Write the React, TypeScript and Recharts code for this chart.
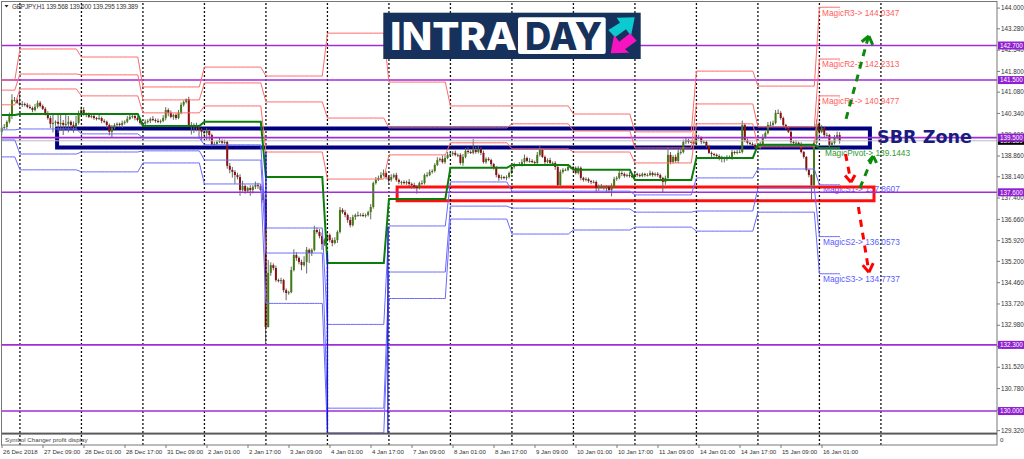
import React from 'react'
import { ComposedChart, Bar, Line, XAxis, YAxis, ReferenceLine, ReferenceArea } from 'recharts'

const dateLabels = [
  '26 Dec 2018', '27 Dec 09:00', '28 Dec 01:00', '28 Dec 17:00', '31 Dec 09:00', '2 Jan 01:00', '2 Jan 17:00',
  '3 Jan 09:00', '4 Jan 01:00', '4 Jan 17:00', '7 Jan 09:00', '8 Jan 01:00', '8 Jan 17:00', '9 Jan 09:00',
  '10 Jan 01:00', '10 Jan 17:00', '11 Jan 09:00', '14 Jan 01:00', '14 Jan 17:00', '15 Jan 09:00', '16 Jan 01:00',
]
const priceTicks = [
  129.32, 130.04, 130.78, 131.52, 132.24, 132.98, 133.72, 134.46, 135.2, 135.92, 136.66,
  137.4, 138.14, 138.86, 139.6, 140.34, 141.08, 141.8, 142.54, 143.28, 144,
]
const srLevels = [142.7, 141.5, 139.5, 137.6, 132.3, 130]
const lastPrice = 139.389

// bar index of each daily separator
const dayBars = [7, 31, 55, 79, 103, 127, 151, 175, 199, 223, 247, 271, 295, 319, 343]

// daily pivot levels, one value per day block
const magicR3 = [141.5, 142.58, 142.3, 141.26, 141.95, 141.64, 143.13, 141.43, 140.6, 140.6, 140.32, 139.7, 141.81, 141.29, 144.03]
const magicR2 = [141.15, 141.71, 141.68, 140.81, 141.4, 140.74, 140.18, 139.84, 139.84, 139.98, 139.73, 139.14, 140.67, 139.87, 142.23]
const magicR1 = [140.64, 141.19, 140.95, 140.36, 140.6, 139.0, 138.06, 138.9, 139.32, 139.11, 139.0, 138.62, 139.98, 139.18, 140.95]
const magicPivot = [140.29, 140.32, 140.32, 139.9, 140.05, 138.13, 135.14, 137.37, 138.45, 138.55, 138.38, 138.03, 138.79, 139.25, 139.14]
const magicS1 = [139.77, 139.8, 139.63, 139.49, 139.25, 136.36, 133.01, 136.43, 137.96, 137.64, 137.64, 137.51, 138.1, 138.41, 137.86]
const magicS2 = [139.42, 138.93, 139.0, 139.04, 138.72, 135.49, 130.1, 134.83, 137.12, 137.05, 137.02, 136.91, 136.95, 137.75, 136.06]
const magicS3 = [138.83, 138.38, 138.31, 138.62, 137.89, 133.74, 129.24, 133.91, 136.67, 136.15, 136.29, 136.39, 136.25, 136.91, 134.77]

const closes = [
  139.84, 139.87, 140.05, 140.25, 140.81, 140.81, 140.71, 140.64, 140.67, 140.64, 140.57, 140.53, 140.46, 140.57, 140.71, 140.6,
  140.5, 140.32, 140.18, 139.98, 140.01, 140.05, 139.98, 140.01, 139.94, 139.98, 140.05, 139.94, 139.87, 140.01, 140.29, 140.46,
  140.32, 140.29, 140.22, 140.25, 140.18, 140.15, 140.18, 140.08, 140.05, 139.94, 139.7, 139.84, 139.94, 139.98, 139.94, 140.01,
  140.05, 140.15, 140.22, 140.25, 140.18, 140.11, 140.01, 139.98, 140.05, 140.08, 140.15, 140.11, 140.08, 140.05, 140.08, 140.18,
  140.46, 140.36, 140.22, 140.29, 140.18, 140.36, 140.64, 140.74, 140.84, 139.94, 139.91, 139.94, 139.84, 139.77, 139.7, 139.66,
  139.73, 139.59, 139.25, 139.28, 139.35, 139.39, 139.32, 139.35, 138.52, 138.38, 138.31, 138.2, 138.13, 137.68, 137.82, 137.65,
  137.75, 137.68, 137.79, 137.85, 137.82, 137.68, 137.33, 132.92,
  134.8, 135.07, 134.97, 134.55, 134.52, 134.55, 134.2, 134.1, 134.13, 134.9, 135.42, 135.32, 135.18, 135.07, 135.18, 135.6,
  135.49, 135.6, 136.29, 136.22, 136.08, 135.8, 135.94, 136.12, 135.94, 135.84, 135.94, 136.22, 136.99,
  136.91, 136.81, 136.64, 136.46, 136.74, 136.81, 136.81, 136.81, 136.78, 136.81, 136.91, 137.09,
  137.92, 138.03, 138.1, 138.2, 138.27, 138.13, 138.03, 138.13, 138.2, 138.03, 137.96, 137.96, 137.92, 137.96, 137.89, 137.85,
  137.79, 137.75, 137.92, 137.92, 138.2, 138.2, 138.31, 138.34, 138.55, 138.72, 138.76, 138.65, 138.79, 138.9, 138.93, 138.97,
  138.9, 138.9, 138.62, 138.83, 139.04, 139.0, 138.97, 139.07, 139.0, 139.11, 138.97, 138.65, 138.76, 138.72, 138.58, 138.45,
  138.2, 138.1, 138.13, 138.1, 138.13, 138.27, 138.48, 138.55, 138.55, 138.55, 138.65, 138.79, 138.69, 138.69, 138.65, 138.62,
  138.9, 139.07, 138.83, 138.65, 138.72, 138.62, 138.62, 138.48, 137.85, 138.31, 138.38, 138.38, 138.48, 138.48, 138.45, 138.27,
  138.45, 138.1, 138.03, 138.06, 137.99, 137.96, 137.96, 137.75, 137.79, 137.79, 137.79, 137.79, 137.68, 137.79, 138.06, 138.1,
  138.27, 138.24, 138.17, 138.2, 138.17, 138.13, 138.24, 138.2, 138.17, 138.24, 138.2, 138.2, 138.27, 138.2, 138.24, 138.2,
  138.1, 137.96, 138.1, 138.9, 138.65, 138.83, 138.69, 138.97,
  139.0, 139.35, 139.42, 139.35, 139.35, 139.28, 139.52, 139.49, 139.35, 139.35, 139.21, 138.97, 138.93, 138.9, 138.86, 138.83,
  138.79, 138.76, 138.83, 138.83, 139.0, 138.97, 139.0, 139.0, 139.94, 139.42, 139.32, 139.28, 139.25, 139.18, 139.14, 139.28,
  139.52, 139.66, 139.94, 139.94, 140.01, 140.36, 140.36, 140.18, 139.94, 139.84, 139.7, 139.35, 139.32, 139.32, 139.28, 139.0,
  138.83, 138.38, 138.2, 137.85, 139.32, 139.98, 139.7, 139.84, 139.59, 139.59, 139.25, 139.32, 139.49, 139.59, 139.39,
]

// wick lengths above and below each candle body
const upperWicks = [
  .08, .1, .05, .12, .2, .1, .05, .35, .1, .05, .06, .08, .05, .1, .08, .06,
  .05, .06, .1, .08, .3, .05, .28, .32, .1, .3, .2, .05, .12, .25, .15, .12,
  .1, .05, .08, .1, .05, .04, .12, .05, .06, .04, .05, .1, .06, .05, .04, .08,
  .05, .1, .12, .08, .05, .06, .08, .05, .08, .06, .05, .1, .06, .08, .05, .1,
  .1, .06, .08, .04, .05, .1, .08, .05, .02, .08, .1, .06, .08, .05, .05, .08,
  .1, .06, .05, .08, .06, .1, .05, .08, .04, .1, .1, .06, .08, .1, .18, .05,
  .05, .1, .06, .12, .08, .06, .04, .02,
  .45, .1, .06, .08, .05, .08, .04, .06, .05, .12, .2, .1, .05, .08, .2, .1,
  .05, .05, .15, .08, .1, .12, .06, .1, .05, .08, .1, .06, .1,
  .06, .08, .05, .1, .08, .05, .12, .06, .08, .05, .05, .1,
  .05, .1, .08, .1, .12, .06, .05, .1, .06, .08, .05, .04, .06, .05, .1, .05,
  .08, .06, .05, .1, .05, .1, .08, .06, .06, .1, .05, .12, .1, .1, .08, .06,
  .08, .05, .06, .1, .1, .12, .06, .38, .12, .1, .05, .08, .05, .06, .05, .04,
  .06, .05, .08, .04, .06, .05, .06, .08, .04, .1, .1, .12, .05, .1, .06, .05,
  .1, .15, .06, .05, .06, .08, .05, .06, .04, .08, .06, .05, .06, .05, .04, .05,
  .06, .05, .04, .06, .05, .04, .06, .05, .08, .1, .04, .06, .05, .12, .08, .06,
  .1, .06, .05, .05, .1, .05, .08, .04, .06, .05, .04, .06, .08, .05, .05, .06,
  .05, .04, .08, .25, .1, .06, .08, .12,
  .12, .08, .06, .04, .06, .05, .15, .08, .05, .06, .05, .04, .05, .04, .05, .06,
  .04, .05, .06, .05, .08, .05, .08, .1, .15, .06, .05, .04, .06, .05, .04, .08,
  .1, .06, .1, .12, .08, .1, .12, .06, .05, .04, .05, .06, .05, .08, .04, .06,
  .04, .03, .02, .03, .1, .15, .08, .1, .05, .08, .04, .06, .1, .12, .1,
]
const lowerWicks = [
  .1, .05, .08, .06, .1, .06, .04, .05, .08, .06, .05, .04, .08, .05, .06, .05,
  .04, .05, .06, .15, .3, .1, .32, .25, .35, .12, .3, .1, .2, .1, .06, .05,
  .06, .08, .04, .05, .06, .05, .04, .08, .05, .1, .12, .2, .05, .06, .08, .1,
  .06, .05, .04, .06, .08, .05, .06, .1, .05, .06, .08, .04, .06, .05, .06, .05,
  .08, .12, .05, .1, .06, .04, .05, .06, .05, .04, .3, .25, .12, .3, .28, .1,
  .25, .2, .06, .05, .08, .04, .06, .05, .1, .12, .2, .3, .08, .2, .05, .1,
  .06, .2, .12, .08, .1, .05, .1, .56,
  .02, .1, .08, .06, .05, .1, .08, .25, .06, .04, .05, .1, .08, .18, .05, .4,
  .35, .1, .05, .06, .08, .2, .06, .05, .08, .12, .05, .1, .05,
  .06, .08, .1, .08, .05, .1, .06, .05, .04, .06, .05, .25,
  .06, .05, .04, .06, .05, .08, .1, .06, .05, .06, .08, .1, .05, .06, .08, .12,
  .06, .2, .05, .06, .05, .08, .04, .06, .05, .04, .06, .05, .06, .04, .05, .06,
  .05, .08, .06, .1, .05, .06, .04, .05, .06, .05, .08, .05, .06, .04, .08, .06,
  .08, .1, .06, .05, .08, .05, .04, .06, .05, .04, .05, .06, .05, .06, .04, .05,
  .05, .06, .04, .08, .05, .06, .04, .1, .06, .05, .06, .04, .05, .06, .08, .05,
  .05, .08, .06, .05, .06, .08, .05, .15, .1, .06, .1, .2, .08, .22, .05, .06,
  .05, .08, .06, .05, .06, .04, .05, .06, .05, .04, .06, .05, .04, .06, .05, .06,
  .05, .35, .1, .06, .08, .05, .06, .08,
  .06, .05, .08, .06, .04, .05, .06, .05, .08, .06, .05, .04, .1, .06, .08, .12,
  .15, .12, .06, .05, .1, .06, .05, .04, .05, .08, .06, .05, .04, .05, .06, .05,
  .04, .06, .05, .04, .06, .05, .04, .06, .08, .05, .04, .06, .05, .08, .06, .05,
  .06, .05, .08, .52, .05, .06, .1, .05, .08, .06, .1, .05, .06, .05, .1,
]

const chartRows = closes.map((close, i) => {
  const open = i === 0 ? 139.7 : closes[i - 1]
  const high = Math.max(open, close) + upperWicks[i]
  const low = Math.min(open, close) - lowerWicks[i]
  const row: any = { bar: i, open, close, high, low, range: [low, high] }
  // the level stays flat inside a day and slants over the last bar before the separator
  const nextDay = dayBars.findIndex((d) => d > i)
  const isSlant = dayBars[nextDay] === i + 1
  row.r3 = isSlant ? null : magicR3[nextDay]
  row.r2 = isSlant ? null : magicR2[nextDay]
  row.r1 = isSlant ? null : magicR1[nextDay]
  row.pivot = isSlant ? null : magicPivot[nextDay]
  row.s1 = isSlant ? null : magicS1[nextDay]
  row.s2 = isSlant ? null : magicS2[nextDay]
  row.s3 = isSlant ? null : magicS3[nextDay]
  return row
})

const labelFont = '"Liberation Sans", Arial, sans-serif'

function Candle(props: any) {
  const { x, y, width, height, payload } = props
  const cx = x + width / 2
  const perPrice = height / (payload.high - payload.low)
  const top = y + (payload.high - Math.max(payload.open, payload.close)) * perPrice
  const bodyHeight = Math.max(Math.abs(payload.close - payload.open) * perPrice, 1)
  const up = payload.close >= payload.open
  return (
    <g>
      <line x1={cx} x2={cx} y1={y} y2={y + height} stroke="#666" strokeWidth={1} />
      <rect x={cx - 1} y={top} width={2} height={bodyHeight} fill={up ? '#447a12' : '#8a1010'} />
    </g>
  )
}

function PriceTick({ x, y, payload }: any) {
  const v = payload.value
  const isLevel = srLevels.includes(v)
  const isLast = v === lastPrice
  if (isLevel || isLast) {
    return (
      <g>
        <rect x={x + 1} y={y - 4} width={27} height={8} fill={isLast ? '#000' : '#8f1fd0'} />
        <text x={x + 3} y={y + 2.2} fontSize={6.3} fontFamily={labelFont} fill="#fff">{v.toFixed(3)}</text>
      </g>
    )
  }
  return (
    <g>
      <line x1={x} x2={x + 3} y1={y} y2={y} stroke="#444" strokeWidth={0.7} />
      <text x={x + 4} y={y + 2.2} fontSize={6.3} fontFamily={labelFont} fill="#333">{v.toFixed(3)}</text>
    </g>
  )
}

function DateTick({ x, y, index }: any) {
  return (
    <g>
      <line x1={x} x2={x} y1={y} y2={y + 3} stroke="#444" strokeWidth={0.7} />
      <text x={x + 1} y={y + 9} fontSize={6.1} fontFamily={labelFont} fill="#333">{dateLabels[index]}</text>
    </g>
  )
}

function Segment({ a, b, color, dash, width = 3 }: any) {
  return (
    <ReferenceLine
      key={`${a[0]}-${a[1]}`}
      segment={[{ x: a[0], y: a[1] }, { x: b[0], y: b[1] }]}
      stroke={color}
      strokeWidth={width}
      strokeDasharray={dash}
      ifOverflow="visible"
    />
  )
}

// the MT4 chart objects sit under the drawn arrows
function TextLayer() {
  const magic = { fontFamily: labelFont, fontSize: 8.3, dominantBaseline: 'central' as const }
  return (
    <svg width={1024} height={459} style={{ position: 'absolute', left: 0, top: 0 }}>
      <text x={822} y={12.5} fill="#ff6060" {...magic}>MagicR3-&gt; 144.0347</text>
      <text x={822} y={64} fill="#ff6060" {...magic}>MagicR2-&gt; 142.2313</text>
      <text x={822} y={101} fill="#ff6060" {...magic}>MagicR1-&gt; 140.9477</text>
      <text x={825} y={153} fill="#2f9a2f" {...magic}>MagicPivot-&gt; 139.1443</text>
      <text x={823} y={189} fill="#5c5cff" {...magic}>MagicS1-&gt; 137.8607</text>
      <text x={823} y={241.7} fill="#5c5cff" {...magic}>MagicS2-&gt; 136.0573</text>
      <text x={823} y={279} fill="#5c5cff" {...magic}>MagicS3-&gt; 134.7737</text>
    </svg>
  )
}

function Overlay() {
  return (
    <svg width={1024} height={459} style={{ position: 'absolute', left: 0, top: 0, pointerEvents: 'none' }}>
      <rect x={1.5} y={1.5} width={995.5} height={443.5} fill="none" stroke="#777" />
      <rect x={2} y={432.6} width={995} height={2} fill="#5a5a5a" />
      <text x={5} y={442} fontSize={6.2} fontFamily={labelFont} fill="#444">Symbol Changer profit display</text>
      <text x={1000} y={442} fontSize={6.2} fontFamily={labelFont} fill="#333">0</text>
      <polygon points="4.5,5 8.5,5 6.5,7.5" fill="#222" />
      <text x={12} y={9} fontSize={6.4} fontFamily={labelFont} fill="#333" textLength={126}>GBPJPY,H1  139.568 139.600 139.295 139.389</text>
      <text x={877} y={137} fontFamily='"DejaVu Sans", sans-serif' fontWeight={700} fontSize={17.6} fill="#1b1b80" dominantBaseline="central">SBR Zone</text>

      <rect x={383.3} y={12.7} width={257.4} height={46.3} fill="#16325c" />
      <text x={390} y={50} fontFamily='Inter, sans-serif' fontWeight={800} fontSize={38.5} fill="#fff" textLength={127} lengthAdjust="spacingAndGlyphs">INTRA</text>
      <rect x={518} y={17.3} width={87.7} height={36.7} rx={2} fill="#fff" />
      <text x={525} y={50} fontFamily='Inter, sans-serif' fontWeight={800} fontSize={38.5} fill="#16325c" textLength={77} lengthAdjust="spacingAndGlyphs">DAY</text>
      <polygon points="616.7,17.7 634.7,17.3 631,36 626,29.3 615,37.3 608.3,30 620,22.7" fill="#0bcbd0" />
      <polygon points="629.3,52.7 610.7,53.3 614,35 619.3,41.7 630,33.3 636.7,40.7 625,49.3" fill="#f514c0" />
    </svg>
  )
}

export default function App() {
  return (
    <div style={{ position: 'absolute', left: 0, top: 0, width: 1024, height: 459, background: '#fff' }}>
      <TextLayer />
      <ComposedChart
        width={1024}
        height={459}
        data={chartRows}
        margin={{ top: 2, right: 0, bottom: 0, left: 2 }}
      >
        <XAxis
          dataKey="bar"
          type="number"
          domain={[0, 388.3]}
          ticks={dateLabels.map((_, i) => i * 16)}
          interval={0}
          height={14}
          axisLine={false}
          tickLine={false}
          tickSize={0}
          tickMargin={0}
          tick={DateTick}
        />
        <YAxis
          orientation="right"
          type="number"
          domain={[128.82, 144.212]}
          allowDataOverflow
          ticks={[...priceTicks, lastPrice, ...srLevels]}
          interval={0}
          width={27}
          axisLine={false}
          tickLine={false}
          tickSize={0}
          tickMargin={0}
          tick={PriceTick}
        />
        {dayBars.map((d) => Segment({ a: [d, 128.82], b: [d, 144.212], color: '#111', dash: '2 2', width: 1.3 }))}
        <ReferenceLine y={lastPrice} stroke="#b4bcc4" strokeWidth={1} />
        {srLevels.map((v) => (
          <ReferenceLine key={v} y={v} stroke="#a12cd8" strokeWidth={1.6} />
        ))}
        <Line dataKey="r3" stroke="#ff6a6a" strokeWidth={1} dot={false} connectNulls isAnimationActive={false} />
        <Line dataKey="r2" stroke="#ff6a6a" strokeWidth={1} dot={false} connectNulls isAnimationActive={false} />
        <Line dataKey="r1" stroke="#ff6a6a" strokeWidth={1} dot={false} connectNulls isAnimationActive={false} />
        <Line dataKey="s1" stroke="#6a6aff" strokeWidth={1} dot={false} connectNulls isAnimationActive={false} />
        <Line dataKey="s2" stroke="#6a6aff" strokeWidth={1} dot={false} connectNulls isAnimationActive={false} />
        <Line dataKey="s3" stroke="#6a6aff" strokeWidth={1} dot={false} connectNulls isAnimationActive={false} />
        <Line dataKey="pivot" stroke="#0b7d0b" strokeWidth={2} dot={false} connectNulls isAnimationActive={false} />
        {/* the day drops where the blue levels stack into one dark column */}
        {Segment({ a: [103, 139.0], b: [103, 136.36], color: '#1414d8', width: 1.3 })}
        {Segment({ a: [127, 135.5], b: [127, 129.24], color: '#1414d8', width: 1.3 })}
        {Segment({ a: [150.6, 136.4], b: [150.6, 129.24], color: '#1414d8', width: 1.3 })}
        <Bar dataKey="range" barSize={2} shape={Candle} isAnimationActive={false} />
        <ReferenceArea x1={21.5} x2={338.7} y1={139.16} y2={139.82} fill="none" stroke="#000080" strokeWidth={4} />
        <ReferenceArea x1={154.2} x2={340.3} y1={137.31} y2={137.78} fill="none" stroke="#ff1010" strokeWidth={3} />
        {Segment({ a: [329.4, 140.15], b: [338.1, 143.0], color: '#0a8a0a', dash: '7 6' })}
        {Segment({ a: [335.5, 142.83], b: [338.3, 143.03], color: '#0a8a0a' })}
        {Segment({ a: [338.3, 143.03], b: [339.8, 142.72], color: '#0a8a0a' })}
        {Segment({ a: [334.8, 137.75], b: [339.8, 138.83], color: '#0a8a0a', dash: '7 6' })}
        {Segment({ a: [338.1, 138.66], b: [340, 138.86], color: '#0a8a0a' })}
        {Segment({ a: [340, 138.86], b: [341.3, 138.62], color: '#0a8a0a' })}
        {Segment({ a: [329.2, 138.93], b: [331.3, 137.97], color: '#ff0000', dash: '7 6' })}
        {Segment({ a: [329, 138.18], b: [331.3, 137.95], color: '#ff0000' })}
        {Segment({ a: [331.3, 137.95], b: [332.9, 138.2], color: '#ff0000' })}
        {Segment({ a: [334.2, 137.09], b: [338.3, 134.84], color: '#ff0000', dash: '7 6' })}
        {Segment({ a: [335.9, 135.07], b: [338.3, 134.82], color: '#ff0000' })}
        {Segment({ a: [338.3, 134.82], b: [340, 135.14], color: '#ff0000' })}
      </ComposedChart>
      <Overlay />
    </div>
  )
}
